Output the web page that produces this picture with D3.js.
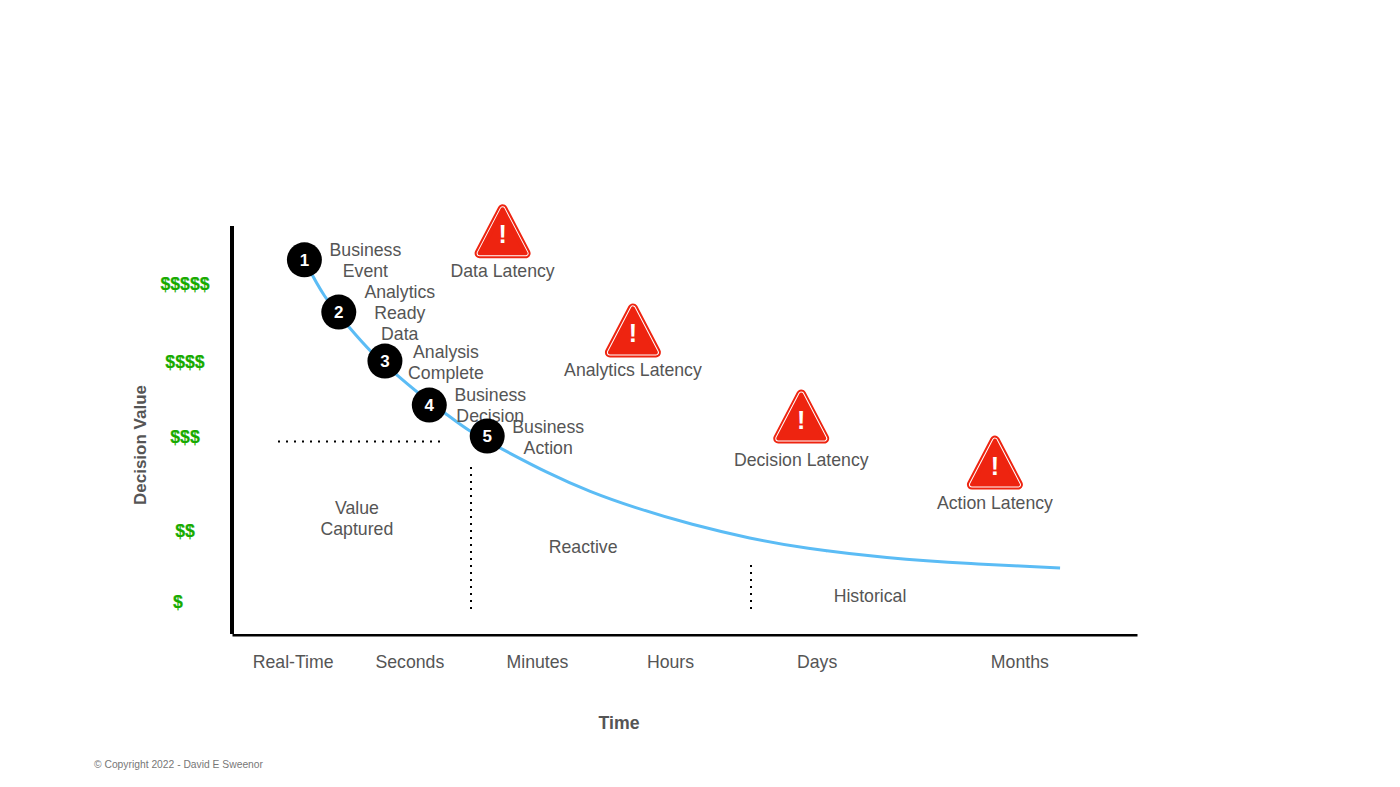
<!DOCTYPE html>
<html>
<head>
<meta charset="utf-8">
<script src="https://cdn.jsdelivr.net/npm/d3@7"></script>
<style>
  html, body { margin: 0; background: #fff; }
  text { font-family: "Liberation Sans", Arial, sans-serif; fill: #555; }
</style>
</head>
<body>
<svg id="chart" width="1400" height="787"></svg>
<script>
// values are in percent of the axis length
const curveX = [8, 10.1, 13, 15.3, 18.2, 20.4, 23.8, 26.3, 29.6, 34.8, 39.6, 44.3, 50.9, 57.3, 63.1, 72.4, 81.5, 91.5];
const curveY = [91.7, 82.6, 75, 69.1, 63.5, 59.3, 53.7, 49.5, 45.6, 39.5, 34.8, 31.1, 26.7, 23.4, 21, 18.6, 17.2, 16.2];

const stepX = [8, 11.8, 16.9, 21.8, 28.2];
const stepY = [91.7, 78.9, 66.9, 56.1, 48.5];
const stepLabels = [["Business", "Event"], ["Analytics", "Ready", "Data"], ["Analysis", "Complete"], ["Business", "Decision"], ["Business", "Action"]];

const timeLabels = ["Real-Time", "Seconds", "Minutes", "Hours", "Days", "Months"];
const timeTicks = [6.7, 19.6, 33.7, 48.4, 64.6, 87];

const valueLabels = ["$$$$$", "$$$$", "$$$", "$$", "$"];
const valueTicks = [86, 67, 48.5, 25.5, 8];

const latencyLabels = ["Data Latency", "Analytics Latency", "Decision Latency", "Action Latency"];
const latencyX = [29.9, 44.3, 62.9, 84.3];
const latencyY = [96.5, 72.2, 51.1, 39.8];

const regionLabels = [["Value", "Captured"], ["Reactive"], ["Historical"]];
const regionX = [13.8, 38.8, 70.5];
const regionY = [29.5, 19.8, 7.8];

const x = d3.scaleLinear().domain([0, 100]).range([232, 1137]);
const y = d3.scaleLinear().domain([0, 100]).range([634, 226]);

const svg = d3.select("#chart");
const lineGap = 21;
const labelSize = "17.7px";

// speckled edge for the hand drawn axes and curve
const rough = svg.append("defs").append("filter")
  .attr("id", "rough")
  .attr("filterUnits", "userSpaceOnUse")
  .attr("x", 0).attr("y", 0).attr("width", 1400).attr("height", 787)
  .attr("color-interpolation-filters", "sRGB");
rough.append("feTurbulence")
  .attr("type", "fractalNoise").attr("baseFrequency", 0.8).attr("numOctaves", 1).attr("seed", 3);
rough.append("feDisplacementMap")
  .attr("in", "SourceGraphic")
  .attr("xChannelSelector", "R").attr("yChannelSelector", "G")
  .attr("scale", 1.5);

// multi line centred text, first line baseline at y0
function multiline(g, lines, x0, y0) {
  const t = g.append("text").attr("text-anchor", "middle").style("font-size", labelSize);
  lines.forEach((l, i) => {
    t.append("tspan").attr("x", x0).attr("y", y0 + i * lineGap).text(l);
  });
}

// axes
const xAxis = svg.append("g")
  .attr("transform", `translate(0,${y(0)})`)
  .call(d3.axisBottom(x).tickValues(timeTicks).tickSize(0).tickPadding(21.5)
    .tickFormat((d, i) => timeLabels[i]));
xAxis.select(".domain").attr("stroke", "#000").attr("stroke-width", 4).attr("filter", "url(#rough)");
xAxis.selectAll("text").style("font-size", labelSize).style("fill", "#555");

svg.append("line")
  .attr("x1", x(0)).attr("x2", x(0))
  .attr("y1", y(0)).attr("y2", y(100))
  .attr("stroke", "#000").attr("stroke-width", 4)
  .attr("filter", "url(#rough)");

// dotted guides
const dotted = [[278, 441.5, 440, 441.5, "2 6"], [471, 467, 471, 613, "2 5"], [751, 565, 751, 613, "2 5"]];
svg.selectAll(".guide").data(dotted).join("line")
  .attr("class", "guide")
  .attr("x1", d => d[0]).attr("y1", d => d[1])
  .attr("x2", d => d[2]).attr("y2", d => d[3])
  .attr("stroke", "#000").attr("stroke-width", 2)
  .attr("stroke-dasharray", d => d[4]);

// decay curve
const line = d3.line()
  .x(d => x(d[0]))
  .y(d => y(d[1]))
  .curve(d3.curveBasis);

svg.append("path")
  .attr("d", line(d3.zip(curveX, curveY)))
  .attr("fill", "none")
  .attr("stroke", "#5bbcf5")
  .attr("stroke-width", 3)
  .attr("filter", "url(#rough)");

// value labels
svg.selectAll(".value").data(valueLabels).join("text")
  .attr("class", "value")
  .attr("x", (d, i) => i === 4 ? 178 : 185)
  .attr("y", (d, i) => y(valueTicks[i]) + 7)
  .attr("text-anchor", "middle")
  .style("font-size", "17.7px")
  .style("font-weight", "bold")
  .style("fill", "#18ab00")
  .style("stroke", "#18ab00")
  .style("stroke-width", 0.2)
  .text(d => d);

// step labels, offsets from the marker
const stepOffset = [[61, -4], [61, -14], [61, -3], [61, -4], [61, -3]];
stepLabels.forEach((lines, i) => {
  multiline(svg, lines, x(stepX[i]) + stepOffset[i][0], y(stepY[i]) + stepOffset[i][1]);
});

// numbered markers
const steps = svg.selectAll(".step").data(stepX).join("g")
  .attr("class", "step")
  .attr("transform", (d, i) => `translate(${x(d)},${y(stepY[i])})`);
steps.append("circle").attr("r", 17.5).attr("fill", "#000");
steps.append("text")
  .attr("text-anchor", "middle")
  .attr("y", 6)
  .style("font-size", "17px")
  .style("font-weight", "bold")
  .style("fill", "#fff")
  .text((d, i) => i + 1);

// latency warnings
const triangle = "M0,-35 L23,9 L-23,9 Z";
const latencyDy = [33, 33, 36, 33];
const warn = svg.selectAll(".warn").data(latencyLabels).join("g")
  .attr("class", "warn")
  .attr("transform", (d, i) => `translate(${x(latencyX[i])},${y(latencyY[i]) + 4})`);
[[10, "#ee2410"], [6, "#fff"], [4, "#ee2410"]].forEach(([w, c]) => {
  warn.append("path").attr("d", triangle)
    .attr("fill", "#ee2410").attr("stroke", c)
    .attr("stroke-width", w).attr("stroke-linejoin", "round");
});
warn.append("text")
  .attr("text-anchor", "middle")
  .attr("y", -1)
  .style("font-size", "25px")
  .style("font-weight", "bold")
  .style("fill", "#fff")
  .text("!");
warn.append("text")
  .attr("text-anchor", "middle")
  .attr("y", (d, i) => latencyDy[i])
  .style("font-size", labelSize)
  .text(d => d);

// region labels
regionLabels.forEach((lines, i) => {
  multiline(svg, lines, x(regionX[i]), y(regionY[i]));
});

// axis titles
svg.append("text")
  .attr("x", 619).attr("y", 729)
  .attr("text-anchor", "middle")
  .style("font-size", "17.7px").style("font-weight", "bold")
  .text("Time");

svg.append("text")
  .attr("transform", "translate(146,445) rotate(-90)")
  .attr("text-anchor", "middle")
  .style("font-size", "17px").style("font-weight", "bold")
  .text("Decision Value");

svg.append("text")
  .attr("x", 94).attr("y", 768)
  .style("font-size", "10.3px").style("fill", "#777")
  .text("© Copyright 2022 - David E Sweenor");
</script>
</body>
</html>
